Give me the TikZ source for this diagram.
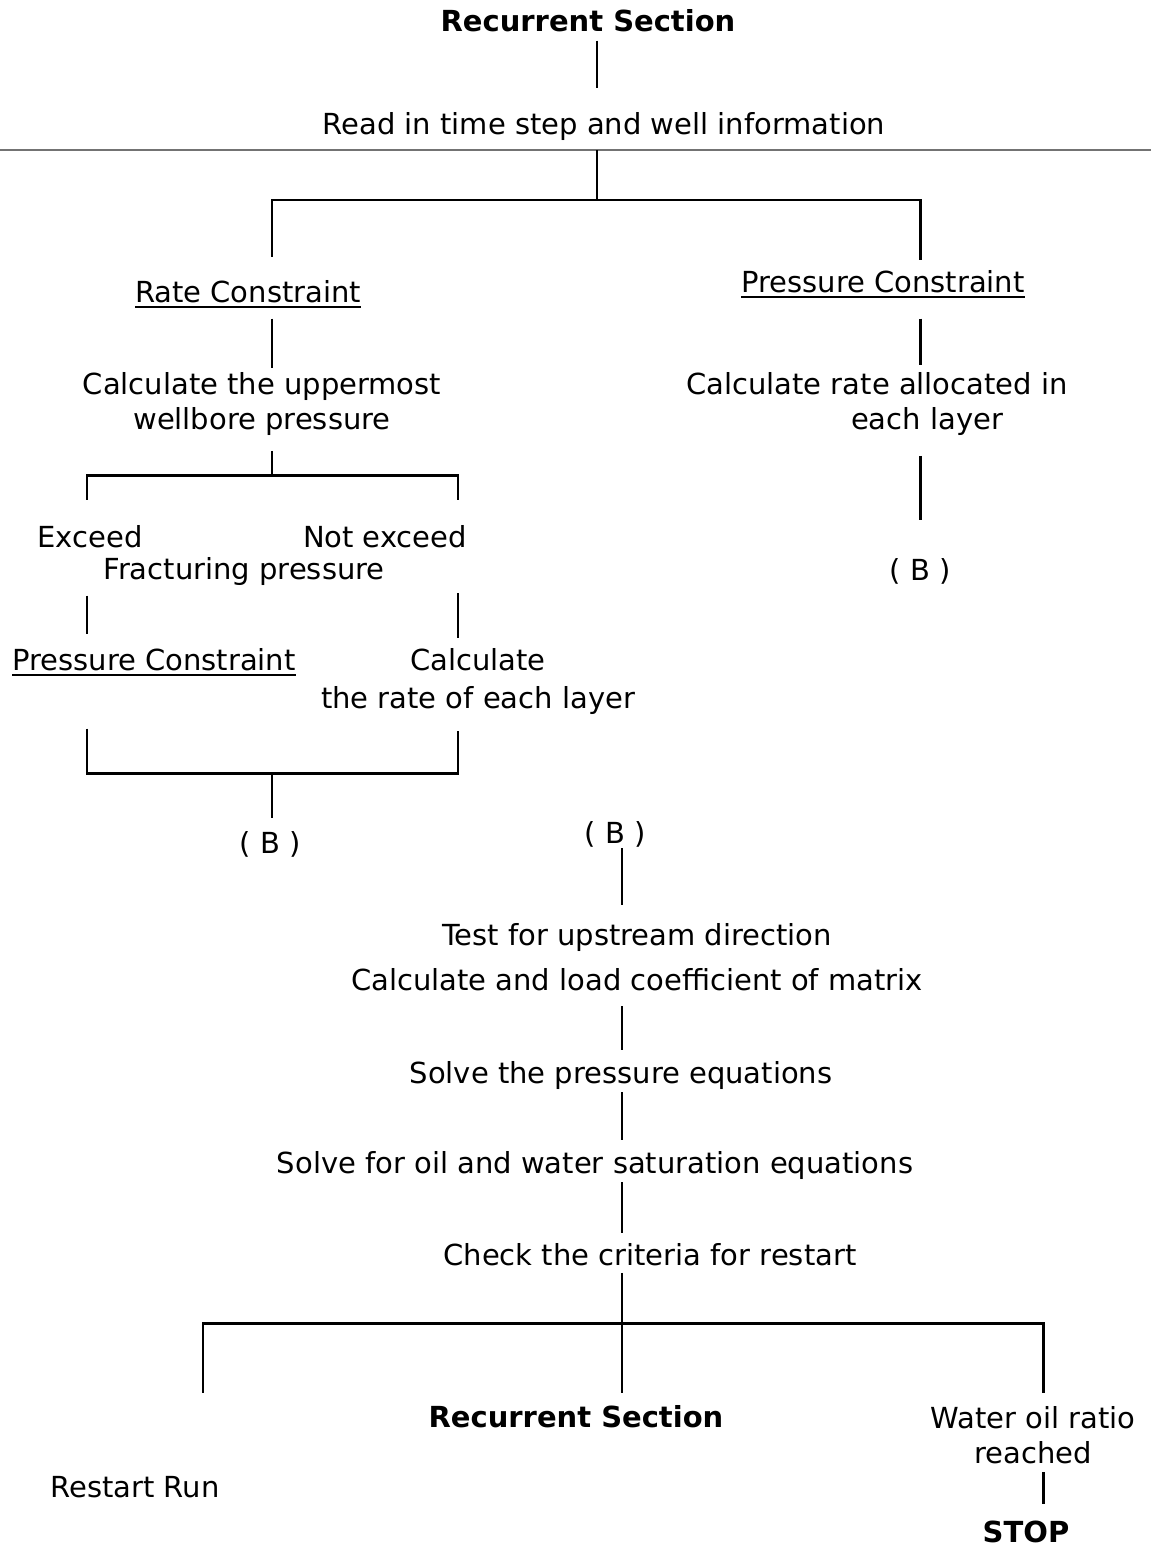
\documentclass[tikz,border=0pt]{standalone}
\usepackage{fontspec}
\setmainfont{DejaVu Sans}
\usetikzlibrary{positioning}

% underline with a heavier bar than \underline
\newcommand{\undr}[1]{\setbox0\hbox{#1}\leavevmode\rlap{\rule[-3.5pt]{\wd0}{1.1pt}}\box0}

\begin{document}
\begin{tikzpicture}[x=0.02cm, y=-0.02cm,
  lbl/.style={font=\fontsize{16.5}{20}\selectfont, inner sep=0pt, align=center},
  hdr/.style={lbl, font=\fontsize{16.5}{20}\selectfont\bfseries},
  wire/.style={line width=1.7pt},
  hrule/.style={line width=0.6pt, black!55}
]
\useasboundingbox (0,0) rectangle (1151,1549);

% column positions of the connectors
\coordinate (s1)  at (597,200);
\coordinate (s1L) at (272,200);
\coordinate (s1R) at (920,200);
\coordinate (s2)  at (272,475);
\coordinate (s2L) at (87,475);
\coordinate (s2R) at (458,475);
\coordinate (j2)  at (272,773);
\coordinate (j2L) at (87,773);
\coordinate (j2R) at (458,773);
\coordinate (cMid) at (622,0);
\coordinate (s3)  at (622,1323);
\coordinate (s3L) at (203,1323);
\coordinate (s3R) at (1043,1323);
\coordinate (ruleL) at (0,150);
\coordinate (ruleR) at (1151,150);

% --- header --------------------------------------------------------------
\node[hdr, anchor=base] (title) at (588,31) {Recurrent Section};
\node[lbl, anchor=base] (read)  at (604,134) {Read in time step and well information};
\draw[hrule] (ruleL) -- (ruleR);

% --- rate / pressure constraint --------------------------------------------
\node[lbl, anchor=base] (rate)   at (248,302) {\undr{Rate Constraint}};
\node[lbl, anchor=base] (pressR) at (883,292) {\undr{Pressure Constraint}};
\node[lbl, anchor=north] (calcUp) at (262,372) {Calculate the uppermost\\wellbore pressure};
\node[lbl, anchor=north] (calcRate) at (877,372) {Calculate rate allocated in\\\hspace*{2cm}each layer};

\node[lbl, anchor=base] (exceed) at (90,547)  {Exceed};
\node[lbl, anchor=base] (notex)  at (385,547) {Not exceed};
\node[lbl, anchor=base] (frac)   at (244,579) {Fracturing pressure};
\node[lbl, anchor=base] (presL)  at (154,670) {\undr{Pressure Constraint}};
\node[lbl, anchor=north] (calcRt) at (478,648) {Calculate\\[1.6pt]the rate of each layer};

\node[lbl, anchor=base] (bL) at (270,853) {( B )};
\node[lbl, anchor=base] (bR) at (920,580) {( B )};

% --- main loop -----------------------------------------------------------
\node[lbl, anchor=base] (bM) at (615,843) {( B )};
\node[lbl, anchor=north] (test) at (637,923) {Test for upstream direction\\[5.6pt]Calculate and load coefficient of matrix};
\node[lbl, anchor=base] (solveP) at (621,1083) {Solve the pressure equations};
\node[lbl, anchor=base] (solveS) at (595,1173) {Solve for oil and water saturation equations};
\node[lbl, anchor=base] (check)  at (650,1265) {Check the criteria for restart};

\node[lbl, anchor=base] (restart) at (135,1497) {Restart Run};
\node[hdr, anchor=base] (rec)     at (576,1427) {Recurrent Section};
\node[lbl, anchor=north] (water)  at (1033,1406) {Water oil ratio\\reached};
\node[hdr, anchor=base] (stop)    at (1026,1542) {STOP};

% --- connectors ------------------------------------------------------------
\draw[wire, shorten <=5pt, shorten >=13.5pt] (title.south -| s1) -- (read.north -| s1);
\draw[wire, shorten <=5.7pt] (read.south -| s1) -- (s1);
\draw[wire, shorten <=13pt, shorten >=5.7pt] (rate.north -| s1L) -- (s1L) -- (s1R) -- (pressR.north -| s1R);
\draw[wire, shorten <=5.7pt, shorten >=2.3pt] (rate.south -| s1L) -- (calcUp.north -| s1L);
\draw[wire, shorten <=11.4pt, shorten >=4pt] (pressR.south -| s1R) -- (calcRate.north -| s1R);

\draw[wire, shorten <=8.5pt] (calcUp.south -| s2) -- (s2);
\draw[wire, shorten <=14.2pt, shorten >=14pt] (exceed.north -| s2L) -- (s2L) -- (s2R) -- (notex.north -| s2R);
\draw[wire, shorten <=27.3pt, shorten >=8pt] (exceed.south -| s2L) -- (presL.north -| s2L);
\draw[wire, shorten <=26pt, shorten >=5.7pt] (notex.south -| s2R) -- (calcRt.north -| s2R);
\draw[wire, shorten <=29.6pt, shorten >=9pt] (presL.south -| j2L) -- (j2L) -- (j2R) -- (calcRt.south -| j2R);
\draw[wire, shorten >=7.4pt] (j2) -- (bL.north -| j2);
\draw[wire, shorten <=11.4pt, shorten >=21.6pt] (calcRate.south -| s1R) -- (bR.north -| s1R);

\draw[wire, shorten <=0.6pt, shorten >=10pt] (bM.south -| cMid) -- (test.north -| cMid);
\draw[wire, shorten <=8.5pt, shorten >=6.3pt] (test.south -| cMid) -- (solveP.north -| cMid);
\draw[wire, shorten <=1.7pt, shorten >=6.3pt] (solveP.south -| cMid) -- (solveS.north -| cMid);
\draw[wire, shorten <=1.7pt, shorten >=5.7pt] (solveS.south -| cMid) -- (check.north -| cMid);
\draw[wire, shorten <=4pt] (check.south -| s3) -- (s3);
\draw[wire, shorten <=47pt, shorten >=7.4pt] (restart.north -| s3L) -- (s3L) -- (s3R) -- (water.north -| s3R);
\draw[wire, shorten >=6.8pt] (s3) -- (rec.north -| s3);
\draw[wire, shorten <=4.5pt, shorten >=9pt] (water.south -| s3R) -- (stop.north -| s3R);

\end{tikzpicture}
\end{document}
